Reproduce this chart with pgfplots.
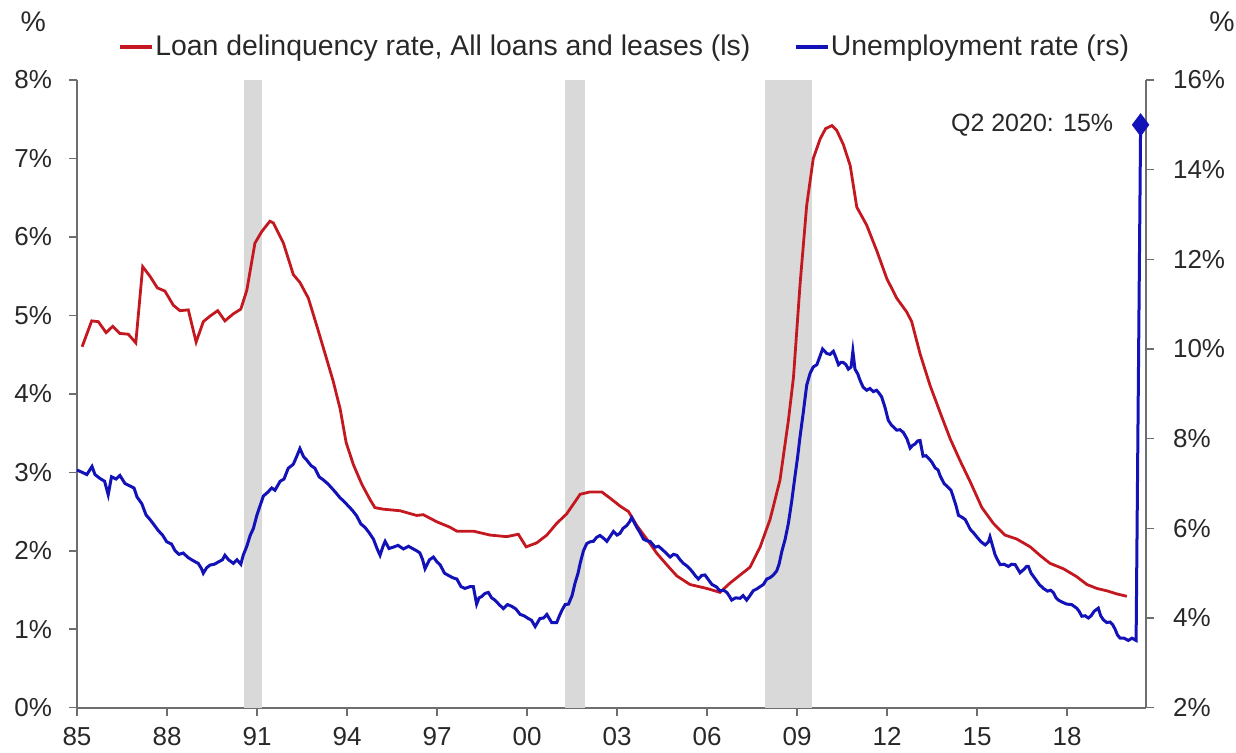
\documentclass[border=0pt]{standalone}
\usepackage{pgfplots}
\pgfplotsset{compat=1.18}
\usepackage{fontspec}
\setmainfont{Liberation Sans}
\definecolor{redl}{RGB}{196,24,32}
\definecolor{bluel}{RGB}{18,18,184}
\definecolor{recg}{RGB}{217,217,217}
\definecolor{axg}{RGB}{110,110,110}
\definecolor{txt}{RGB}{40,40,40}
\newcommand{\tickfont}{\fontsize{13}{15}\selectfont}
\newcommand{\legfont}{\fontsize{14.2}{16}\selectfont}
\begin{document}
\begin{tikzpicture}
\pgfplotsset{
  common/.style={
    scale only axis, width=534.5pt, height=313.85pt,
    xmin=1985, xmax=2020.63,
    tick align=outside, major tick length=4pt,
    every tick/.style={axg, line width=0.8pt},
    axis line style={axg, line width=0.9pt},
    tick label style={font=\tickfont, text=txt},
    clip=false,
  }
}
\begin{axis}[common,
  axis x line*=bottom, axis y line*=left,
  ymin=0, ymax=8,
  xtick={1985,1988,...,2018},
  xticklabels={85,88,91,94,97,00,03,06,09,12,15,18},
  xticklabel style={yshift=-2.5pt},
  ytick={0,1,...,8},
  yticklabels={0\%,1\%,2\%,3\%,4\%,5\%,6\%,7\%,8\%},
  yticklabel style={xshift=-5pt},
  legend columns=2,
  legend style={at={(rel axis cs:0.0384,1.0526)}, anchor=west, draw=none, fill=none,
     inner sep=0pt, outer sep=0pt, font=\legfont, text=txt,
     nodes={inner sep=0.6pt},
     /tikz/every even column/.append style={column sep=21pt}},
  legend image code/.code={\draw[#1, line width=2pt] (0pt,0pt) -- (16pt,0pt);},
]
\addplot[fill=recg, draw=none, forget plot] coordinates {(1990.58,0) (1990.58,8) (1991.17,8) (1991.17,0)};
\addplot[fill=recg, draw=none, forget plot] coordinates {(2001.25,0) (2001.25,8) (2001.92,8) (2001.92,0)};
\addplot[fill=recg, draw=none, forget plot] coordinates {(2007.92,0) (2007.92,8) (2009.5,8) (2009.5,0)};
\addplot[redl, line width=1.4pt] coordinates {
(1985.17,4.60) (1985.49,4.93) (1985.71,4.92) (1985.97,4.78) (1986.19,4.86) (1986.43,4.77)
(1986.71,4.76) (1986.96,4.65) (1987.19,5.62) (1987.43,5.50) (1987.68,5.35) (1987.93,5.31)
(1988.21,5.13) (1988.43,5.06) (1988.71,5.07) (1988.97,4.66) (1989.21,4.92) (1989.43,4.99)
(1989.69,5.06) (1989.93,4.93) (1990.21,5.02) (1990.46,5.08) (1990.66,5.32) (1990.93,5.92)
(1991.16,6.07) (1991.43,6.20) (1991.54,6.18) (1991.88,5.92) (1992.21,5.52) (1992.43,5.42)
(1992.71,5.22) (1992.99,4.87) (1993.27,4.51) (1993.54,4.16) (1993.77,3.81) (1993.97,3.38)
(1994.21,3.10) (1994.49,2.85) (1994.77,2.65) (1994.93,2.55) (1995.21,2.53) (1995.77,2.51)
(1996.32,2.45) (1996.54,2.46) (1996.99,2.37) (1997.43,2.30) (1997.66,2.25) (1998.21,2.25)
(1998.77,2.20) (1999.32,2.18) (1999.71,2.21) (1999.97,2.05) (2000.32,2.10) (2000.66,2.20)
(2000.99,2.35) (2001.32,2.47) (2001.77,2.72) (2002.10,2.75) (2002.49,2.75) (2002.77,2.67)
(2003.10,2.57) (2003.38,2.50) (2003.66,2.32) (2003.99,2.15) (2004.32,1.97) (2004.66,1.82)
(2004.99,1.68) (2005.43,1.57) (2005.99,1.52) (2006.43,1.47) (2006.77,1.59) (2007.10,1.69)
(2007.43,1.79) (2007.77,2.05) (2008.10,2.40) (2008.43,2.90) (2008.71,3.66) (2008.88,4.21)
(2009.10,5.40) (2009.32,6.40) (2009.54,7.00) (2009.77,7.25) (2009.95,7.38) (2010.16,7.42)
(2010.32,7.36) (2010.54,7.18) (2010.77,6.91) (2010.99,6.38) (2011.32,6.15) (2011.66,5.82)
(2011.99,5.47) (2012.32,5.22) (2012.66,5.04) (2012.82,4.92) (2013.10,4.51) (2013.43,4.11)
(2013.77,3.76) (2014.10,3.43) (2014.43,3.15) (2014.77,2.88) (2015.16,2.55) (2015.54,2.35)
(2015.93,2.20) (2016.32,2.15) (2016.77,2.05) (2017.10,1.94) (2017.43,1.84) (2017.88,1.77)
(2018.32,1.67) (2018.66,1.57) (2018.99,1.52) (2019.32,1.49) (2019.66,1.45) (2019.99,1.42)
};
\addlegendentry{Loan delinquency rate, All loans and leases (ls)}
\addlegendimage{bluel}
\addlegendentry{Unemployment rate (rs)}
\node[font=\legfont, text=txt] at (rel axis cs:-0.041,1.0924) {\%};
\node[font=\legfont, text=txt] at (rel axis cs:1.0711,1.0924) {\%};
\end{axis}
\begin{axis}[common,
  axis y line*=right, axis x line=none,
  ymin=2, ymax=16,
  ytick={2,4,...,16},
  yticklabels={2\%,4\%,6\%,8\%,10\%,12\%,14\%,16\%},
  yticklabel style={xshift=6pt},
]
\addplot[bluel, line width=1.5pt] coordinates {
(1985.00,7.30) (1985.17,7.25) (1985.33,7.20) (1985.50,7.38) (1985.60,7.20) (1985.75,7.12)
(1985.92,7.05) (1986.04,6.75) (1986.15,7.15) (1986.30,7.10) (1986.43,7.18) (1986.60,7.00)
(1986.75,6.95) (1986.90,6.90) (1987.00,6.70) (1987.16,6.55) (1987.30,6.30) (1987.43,6.20)
(1987.60,6.05) (1987.71,5.95) (1987.85,5.85) (1987.99,5.70) (1988.15,5.65) (1988.27,5.50)
(1988.40,5.42) (1988.54,5.45) (1988.70,5.35) (1988.82,5.30) (1988.95,5.25) (1989.04,5.22)
(1989.15,5.10) (1989.21,5.00) (1989.32,5.12) (1989.43,5.18) (1989.58,5.20) (1989.71,5.25)
(1989.85,5.30) (1989.93,5.40) (1990.05,5.30) (1990.21,5.22) (1990.33,5.30) (1990.46,5.20)
(1990.54,5.40) (1990.66,5.60) (1990.77,5.84) (1990.88,6.00) (1990.99,6.28) (1991.10,6.50)
(1991.21,6.72) (1991.35,6.80) (1991.49,6.90) (1991.60,6.85) (1991.77,7.05) (1991.90,7.10)
(1992.04,7.34) (1992.21,7.43) (1992.32,7.60) (1992.43,7.78) (1992.55,7.60) (1992.66,7.52)
(1992.80,7.40) (1992.93,7.34) (1993.07,7.15) (1993.21,7.08) (1993.35,7.00) (1993.49,6.90)
(1993.62,6.80) (1993.77,6.68) (1993.90,6.60) (1994.04,6.50) (1994.18,6.40) (1994.32,6.28)
(1994.46,6.10) (1994.60,6.02) (1994.74,5.90) (1994.88,5.76) (1995.00,5.55) (1995.10,5.40)
(1995.20,5.60) (1995.27,5.71) (1995.40,5.55) (1995.54,5.58) (1995.70,5.62) (1995.88,5.54)
(1996.05,5.60) (1996.21,5.54) (1996.32,5.50) (1996.43,5.45) (1996.52,5.30) (1996.60,5.10)
(1996.75,5.30) (1996.88,5.36) (1997.00,5.25) (1997.10,5.19) (1997.25,5.00) (1997.38,4.95)
(1997.52,4.90) (1997.66,4.87) (1997.80,4.70) (1997.93,4.66) (1998.10,4.70) (1998.21,4.70)
(1998.32,4.31) (1998.40,4.45) (1998.49,4.48) (1998.60,4.55) (1998.71,4.57) (1998.82,4.45)
(1998.93,4.40) (1999.07,4.30) (1999.21,4.21) (1999.35,4.30) (1999.49,4.26) (1999.63,4.20)
(1999.77,4.08) (1999.90,4.05) (2000.04,3.99) (2000.15,3.95) (2000.27,3.81) (2000.43,3.99)
(2000.55,4.00) (2000.66,4.08) (2000.82,3.90) (2000.99,3.90) (2001.08,4.05) (2001.16,4.17)
(2001.27,4.30) (2001.38,4.31) (2001.50,4.50) (2001.60,4.78) (2001.70,5.00) (2001.77,5.22)
(2001.88,5.50) (2001.99,5.66) (2002.10,5.70) (2002.21,5.71) (2002.32,5.80) (2002.43,5.84)
(2002.55,5.78) (2002.66,5.71) (2002.77,5.82) (2002.88,5.93) (2003.00,5.85) (2003.10,5.89)
(2003.20,6.00) (2003.32,6.06) (2003.42,6.15) (2003.49,6.24) (2003.58,6.12) (2003.66,6.02)
(2003.77,5.90) (2003.88,5.76) (2004.00,5.72) (2004.10,5.71) (2004.27,5.58) (2004.38,5.60)
(2004.49,5.54) (2004.63,5.45) (2004.77,5.36) (2004.88,5.42) (2004.99,5.40) (2005.10,5.30)
(2005.21,5.22) (2005.35,5.15) (2005.49,5.05) (2005.60,4.95) (2005.71,4.87) (2005.82,4.95)
(2005.93,4.96) (2006.05,4.85) (2006.16,4.75) (2006.30,4.70) (2006.43,4.61) (2006.55,4.62)
(2006.66,4.57) (2006.75,4.48) (2006.82,4.40) (2006.95,4.45) (2007.10,4.44) (2007.20,4.50)
(2007.32,4.40) (2007.43,4.50) (2007.54,4.61) (2007.66,4.65) (2007.77,4.70) (2007.88,4.75)
(2007.99,4.87) (2008.10,4.90) (2008.21,4.96) (2008.32,5.05) (2008.40,5.20) (2008.49,5.48)
(2008.60,5.75) (2008.71,6.11) (2008.82,6.60) (2008.93,7.16) (2009.02,7.60) (2009.10,8.05)
(2009.21,8.60) (2009.32,9.19) (2009.43,9.45) (2009.54,9.60) (2009.66,9.65) (2009.77,9.85)
(2009.85,10.00) (2009.99,9.90) (2010.10,9.88) (2010.21,9.95) (2010.30,9.80) (2010.38,9.65)
(2010.46,9.70) (2010.54,9.70) (2010.63,9.65) (2010.71,9.55) (2010.80,9.60) (2010.86,9.95)
(2010.93,9.55) (2011.02,9.45) (2011.10,9.30) (2011.20,9.15) (2011.32,9.08) (2011.43,9.12)
(2011.54,9.05) (2011.65,9.08) (2011.75,9.00) (2011.82,8.93) (2011.93,8.70) (2012.04,8.41)
(2012.15,8.30) (2012.32,8.19) (2012.43,8.20) (2012.54,8.14) (2012.66,8.00) (2012.77,7.79)
(2012.85,7.85) (2012.93,7.88) (2013.02,7.95) (2013.10,7.96) (2013.20,7.61) (2013.30,7.62)
(2013.40,7.55) (2013.49,7.48) (2013.60,7.35) (2013.70,7.30) (2013.77,7.17) (2013.90,7.00)
(2014.04,6.91) (2014.13,6.85) (2014.21,6.69) (2014.30,6.50) (2014.38,6.29) (2014.49,6.25)
(2014.60,6.20) (2014.68,6.10) (2014.77,5.98) (2014.88,5.90) (2014.99,5.81) (2015.13,5.70)
(2015.27,5.63) (2015.38,5.70) (2015.43,5.81) (2015.52,5.60) (2015.60,5.41) (2015.68,5.30)
(2015.77,5.19) (2015.90,5.20) (2016.04,5.15) (2016.15,5.20) (2016.27,5.19) (2016.35,5.10)
(2016.43,5.01) (2016.55,5.08) (2016.65,5.15) (2016.71,5.15) (2016.80,5.00) (2016.93,4.88)
(2017.07,4.75) (2017.21,4.66) (2017.35,4.60) (2017.45,4.62) (2017.54,4.57) (2017.63,4.45)
(2017.71,4.40) (2017.85,4.35) (2017.99,4.31) (2018.15,4.30) (2018.32,4.22) (2018.40,4.15)
(2018.49,4.04) (2018.60,4.05) (2018.71,4.00) (2018.80,4.05) (2018.90,4.15) (2019.04,4.22)
(2019.12,4.05) (2019.21,3.96) (2019.32,3.90) (2019.43,3.91) (2019.52,3.85) (2019.60,3.75)
(2019.68,3.62) (2019.77,3.55) (2019.90,3.55) (2020.04,3.50) (2020.16,3.55) (2020.30,3.50)
(2020.45,15.00)
};
\addplot[only marks, mark=diamond*, mark size=5.5pt, bluel] coordinates {(2020.45,15)};
\node[anchor=east, inner sep=0pt, font=\fontsize{12.5}{14}\selectfont, text=txt] at (axis cs:2020.45,15) [xshift=-13.5pt] {Q2 2020: 15\%};
\end{axis}
\pgfresetboundingbox
\path (-38.5pt,-22.65pt) rectangle (579.5pt,353.85pt);
\end{tikzpicture}
\end{document}
